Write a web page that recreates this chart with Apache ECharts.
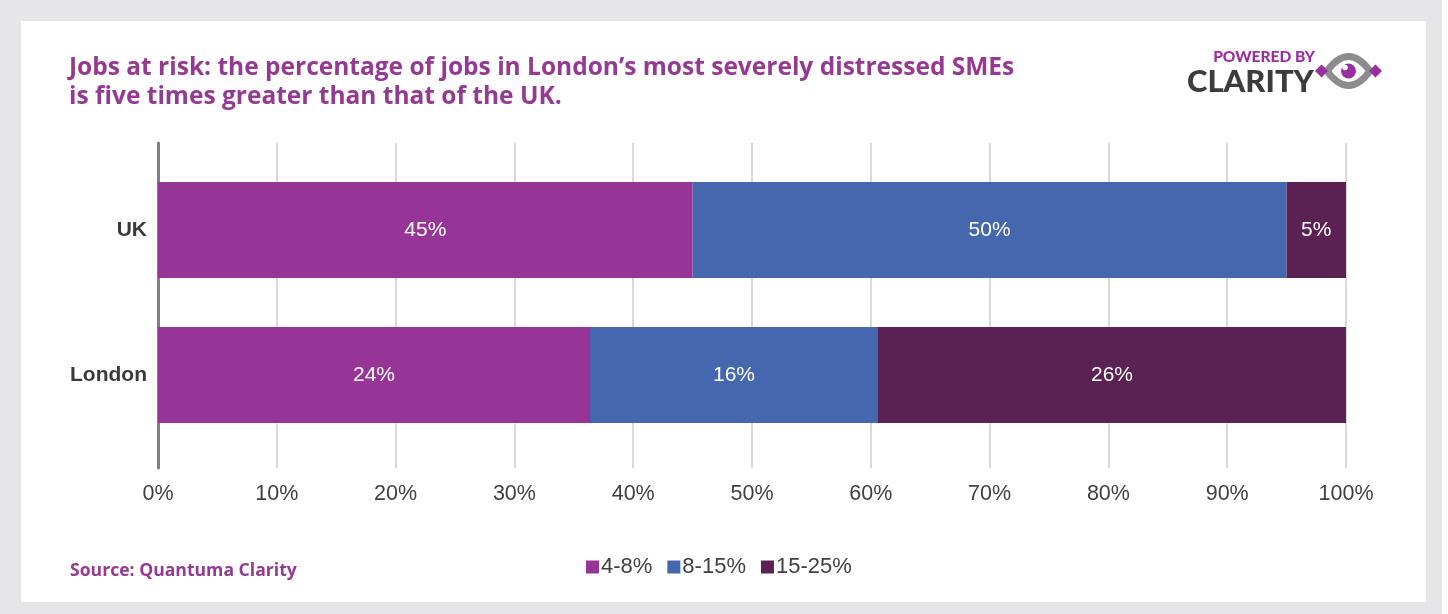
<!DOCTYPE html>
<html>
<head>
<meta charset="utf-8">
<script src="https://cdn.jsdelivr.net/npm/echarts@6/dist/echarts.min.js"></script>
<style>
  html, body { margin: 0; padding: 0; background: #ffffff; }
  #frame { position: absolute; left: 0; top: 0; width: 1442px; height: 614px; background: #e6e6e8; }
  #panel { position: absolute; left: 21px; top: 21px; width: 1405px; height: 581px; background: #ffffff; }
  #chart { position: absolute; left: 0; top: 0; width: 1448px; height: 614px; }
</style>
</head>
<body>
<div id="frame"><div id="panel"></div></div>
<div id="chart"></div>
<script>
// Share of jobs at risk by distress band (values in %)
const categories = ['UK', 'London'];
const band4to8 = [45, 24];
const band8to15 = [50, 16];
const band15to25 = [5, 26];
const seriesNames = ['4-8%', '8-15%', '15-25%'];
const xTicks = [0, 10, 20, 30, 40, 50, 60, 70, 80, 90, 100];

const colors = ['#973497', '#4467ad', '#5b2153'];
const purple = '#953a93';

// Each bar is scaled so the three bands fill the full row (100% stacked)
const rows = [band4to8, band8to15, band15to25];
const totals = categories.map((_, i) => rows.reduce((s, r) => s + r[i], 0));
function share(arr) {
  return arr.map((v, i) => ({ value: v / totals[i] * 100, raw: v }));
}

const chart = echarts.init(document.getElementById('chart'), null, { renderer: 'canvas' });

const labelFont = 'Liberation Sans, Arial, sans-serif';
const headFont = '"Open Sans", sans-serif';

const option = {
  animation: false,
  backgroundColor: 'transparent',
  title: {
    text: 'Jobs at risk: the percentage of jobs in London\u2019s most severely distressed SMEs\nis five times greater than that of the UK.',
    left: 64,
    top: 49,
    textStyle: {
      fontFamily: headFont,
      fontWeight: 'bold',
      fontSize: 24.5,
      lineHeight: 29,
      color: purple
    }
  },
  grid: [
    // gridlines, axis line and tick labels
    { left: 158, width: 1188, top: 143, height: 325 },
    // bars
    { left: 158, width: 1188, top: 157.5, height: 290 }
  ],
  xAxis: [
    {
      gridIndex: 0,
      type: 'value',
      min: 0,
      max: 100,
      interval: 10,
      axisLine: { show: false },
      axisTick: { show: false },
      splitLine: { show: true, lineStyle: { color: '#d9d9d9', width: 2 } },
      axisLabel: {
        margin: 15,
        formatter: v => xTicks.includes(v) ? v + '%' : '',
        fontFamily: labelFont,
        fontSize: 21.5,
        color: '#404040'
      }
    },
    {
      gridIndex: 1,
      type: 'value',
      min: 0,
      max: 100,
      show: false
    }
  ],
  yAxis: [
    {
      gridIndex: 0,
      type: 'value',
      axisLine: { show: true, lineStyle: { color: '#7f7f7f', width: 3 } },
      axisTick: { show: false },
      axisLabel: { show: false },
      splitLine: { show: false }
    },
    {
      gridIndex: 1,
      type: 'category',
      inverse: true,
      data: categories,
      axisLine: { show: false },
      axisTick: { show: false },
      axisLabel: {
        margin: 11,
        fontFamily: labelFont,
        fontWeight: 'bold',
        fontSize: 21,
        color: '#3a3a3a'
      }
    }
  ],
  legend: {
    bottom: 31,
    left: 581,
    itemWidth: 13,
    itemHeight: 13,
    itemGap: 15,
    icon: 'rect',
    data: seriesNames,
    textStyle: {
      fontFamily: labelFont,
      fontSize: 22,
      color: '#404040',
      padding: [0, 0, 0, -3]
    }
  },
  series: rows.map((arr, k) => ({
    name: seriesNames[k],
    type: 'bar',
    stack: 'total',
    xAxisIndex: 1,
    yAxisIndex: 1,
    barWidth: 96,
    data: share(arr),
    itemStyle: { color: colors[k] },
    label: {
      show: true,
      position: 'inside',
      formatter: p => p.data.raw + '%',
      fontFamily: labelFont,
      fontSize: 21,
      color: '#ffffff'
    }
  })),
  graphic: [
    {
      type: 'text',
      left: 70,
      top: 562,
      style: {
        text: 'Source: Quantuma Clarity',
        fontFamily: headFont,
        fontWeight: 'bold',
        fontSize: 17.6,
        fill: purple
      }
    },
    // logo lettering
    {
      type: 'text',
      x: 1315,
      y: 49,
      style: {
        text: 'POWERED BY',
        align: 'right',
        fontFamily: 'Lato, sans-serif',
        fontWeight: 900,
        fontSize: 15.5,
        fill: '#9b2fa0'
      }
    },
    {
      type: 'text',
      x: 1314,
      y: 66,
      style: {
        text: 'CLARITY',
        align: 'right',
        fontFamily: 'Lato, sans-serif',
        fontWeight: 900,
        fontSize: 31,
        fill: '#3c3c3e'
      }
    },
    // logo eye
    {
      type: 'bezierCurve',
      shape: { x1: 1327, y1: 71, x2: 1370, y2: 71, cpx1: 1348.5, cpy1: 42 },
      style: { stroke: '#8c8c8e', lineWidth: 7, fill: null }
    },
    {
      type: 'bezierCurve',
      shape: { x1: 1327, y1: 71, x2: 1370, y2: 71, cpx1: 1348.5, cpy1: 100 },
      style: { stroke: '#8c8c8e', lineWidth: 7, fill: null }
    },
    {
      type: 'polygon',
      shape: { points: [[1315, 71], [1321.5, 64.5], [1328, 71], [1321.5, 77.5]] },
      style: { fill: '#9b2fa0' }
    },
    {
      type: 'polygon',
      shape: { points: [[1369, 71], [1375.5, 64.5], [1382, 71], [1375.5, 77.5]] },
      style: { fill: '#9b2fa0' }
    },
    {
      type: 'circle',
      shape: { cx: 1348.5, cy: 71, r: 7.5 },
      style: { fill: '#9b2fa0' }
    },
    {
      type: 'circle',
      shape: { cx: 1345, cy: 67.5, r: 2.8 },
      style: { fill: '#ffffff' }
    }
  ]
};

chart.setOption(option);
</script>
</body>
</html>
